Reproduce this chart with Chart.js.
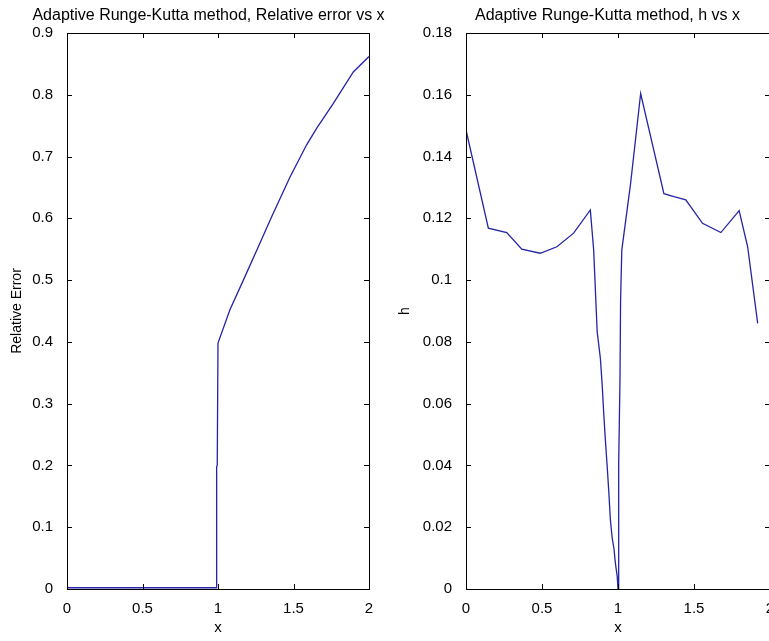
<!DOCTYPE html>
<html>
<head>
<meta charset="utf-8">
<script src="https://cdn.jsdelivr.net/npm/chart.js@4/dist/chart.umd.min.js"></script>
<style>
  html, body { margin: 0; padding: 0; background: #fff; overflow: hidden; }
  body { width: 769px; height: 641px; position: relative; }
  .pane { position: absolute; top: 0; height: 641px; }
</style>
</head>
<body>
<div class="pane" style="left:0;width:430px"><canvas id="err"></canvas></div>
<div class="pane" style="left:384px;width:460px"><canvas id="step"></canvas></div>
<script>
// ── Data ──────────────────────────────────────────────
const errX = [0, 0.25, 0.5, 0.75, 0.99, 0.991, 0.995, 1.0, 1.079, 1.168, 1.267, 1.356, 1.477, 1.587, 1.654, 1.764, 1.896, 2.0];
const errY = [0.002, 0.002, 0.002, 0.002, 0.002, 0.198, 0.2, 0.398, 0.452, 0.5, 0.554, 0.603, 0.667, 0.719, 0.746, 0.786, 0.837, 0.862];

const hX = [0, 0.147, 0.268, 0.367, 0.488, 0.598, 0.708, 0.818, 0.84, 0.863, 0.884, 0.896, 0.906, 0.917, 0.929, 0.94, 0.95, 0.962, 0.973, 0.983, 0.995, 1.0,
            1.003, 1.006, 1.013, 1.017, 1.025, 1.083, 1.149, 1.302, 1.368, 1.446, 1.556, 1.677, 1.797, 1.853, 1.919];
const hY = [0.1486, 0.1168, 0.1154, 0.110, 0.1087, 0.1108, 0.1152, 0.1227, 0.1097, 0.0833, 0.0747, 0.066, 0.0569, 0.0482, 0.0396, 0.031, 0.0223, 0.0164, 0.0132, 0.0083, 0.004, 0.0,
            0.02, 0.0407, 0.0676, 0.0935, 0.1097, 0.1313, 0.1604, 0.128, 0.127, 0.126, 0.1184, 0.1154, 0.1225, 0.1108, 0.086];

const xTicksMax = 2;
const FONT = '"Liberation Sans", Arial, sans-serif';
const LINE = '#2424a6';

// ── MATLAB-like box with inward ticks ─────────────────
const boxPlugin = {
  id: 'matlabBox',
  afterDraw(chart) {
    const { ctx, chartArea: a, scales } = chart;
    ctx.save();
    ctx.strokeStyle = '#000';
    ctx.lineWidth = 1;
    ctx.strokeRect(Math.round(a.left) + 0.5, Math.round(a.top) + 0.5,
                   Math.round(a.right - a.left), Math.round(a.bottom - a.top));
    const len = 5;
    ctx.beginPath();
    scales.x.ticks.forEach(t => {
      const px = Math.round(scales.x.getPixelForValue(t.value)) + 0.5;
      ctx.moveTo(px, a.bottom); ctx.lineTo(px, a.bottom - len);
      ctx.moveTo(px, a.top); ctx.lineTo(px, a.top + len);
    });
    scales.y.ticks.forEach(t => {
      const py = Math.round(scales.y.getPixelForValue(t.value)) + 0.5;
      ctx.moveTo(a.left, py); ctx.lineTo(a.left + len, py);
      ctx.moveTo(a.right, py); ctx.lineTo(a.right - len, py);
    });
    ctx.stroke();
    ctx.restore();
  }
};

function fmt(v) { return String(+v.toFixed(2)); }

function makeChart(id, xs, ys, opts) {
  return new Chart(document.getElementById(id), {
    type: 'line',
    data: {
      datasets: [{
        data: xs.map((x, i) => ({ x, y: ys[i] })),
        borderColor: LINE,
        borderWidth: 1.3,
        pointRadius: 0,
        tension: 0,
      }],
    },
    options: {
      responsive: true,
      maintainAspectRatio: false,
      animation: false,
      layout: { padding: { top: 0, left: 0, right: 13, bottom: 0 } },
      plugins: {
        legend: { display: false },
        tooltip: { enabled: false },
        title: {
          display: true,
          text: opts.title,
          color: '#000',
          font: { family: FONT, size: 16, weight: 'normal', lineHeight: 1.2 },
          padding: { top: 6, bottom: 7.8 },
        },
      },
      scales: {
        x: {
          type: 'linear', min: 0, max: xTicksMax,
          grid: { display: false }, border: { display: false },
          ticks: { stepSize: 0.5, color: '#000', padding: 3, maxRotation: 0, callback: fmt,
                   font: { family: FONT, size: 15 } },
          title: { display: true, text: 'x', color: '#000', font: { family: FONT, size: 15 },
                   padding: { top: 0, bottom: 4 } },
          afterFit(s) { s.height = 52; },
        },
        y: {
          type: 'linear', min: 0, max: opts.yMax,
          grid: { display: false }, border: { display: false },
          ticks: { stepSize: opts.yStep, color: '#000', padding: 6, callback: fmt,
                   font: { family: FONT, size: 15 } },
          title: { display: true, text: opts.yLabel, color: '#000', font: { family: FONT, size: 14 },
                   padding: { top: opts.yTitlePad, bottom: 0 } },
          afterFit(s) { s.width = opts.yWidth; },
        },
        // empty spacer on the right: widens the title box so the title sits like the original
        spacer: {
          type: 'linear', position: 'right', display: true,
          grid: { display: false }, border: { display: false },
          ticks: { display: false },
          afterFit(s) { s.width = opts.spacer; },
        },
      },
    },
    plugins: [boxPlugin],
  });
}

makeChart('err', errX, errY, {
  title: 'Adaptive Runge-Kutta method, Relative error vs x',
  yLabel: 'Relative Error', yMax: 0.9, yStep: 0.1,
  yWidth: 67, spacer: 48, yTitlePad: 8.6,
});
makeChart('step', hX, hY, {
  title: 'Adaptive Runge-Kutta method, h vs x',
  yLabel: 'h', yMax: 0.18, yStep: 0.02,
  yWidth: 82, spacer: 61, yTitlePad: 12.6,
});
</script>
</body>
</html>
